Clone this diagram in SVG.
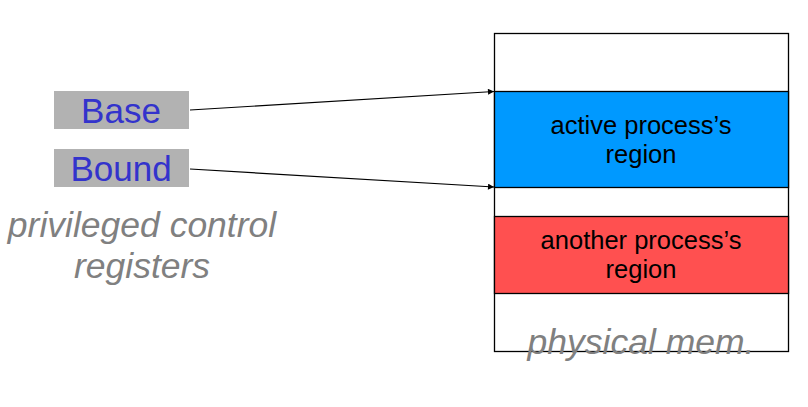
<svg xmlns="http://www.w3.org/2000/svg" width="808" height="407" viewBox="0 0 808 407">
<style>
.reg{fill:#b2b2b2}
.regt{font-family:"Liberation Sans",Arial,sans-serif;font-size:35px;fill:#3333cc;text-anchor:middle}
.note{font-family:"Liberation Sans",Arial,sans-serif;font-size:35.5px;font-style:italic;fill:#808080;text-anchor:middle}
.memt{font-family:"Liberation Sans",Arial,sans-serif;font-size:25.5px;fill:#000;text-anchor:middle}
.box{stroke:#000;stroke-width:1.3}
.conn{stroke:#000;stroke-width:1.2;fill:none;marker-end:url(#ah)}
</style>
<defs>
<marker id="ah" viewBox="0 0 10 10" refX="10" refY="5" markerWidth="8" markerHeight="6" markerUnits="userSpaceOnUse" orient="auto">
<path d="M0,0 L10,5 L0,10 z" fill="#000"/>
</marker>
</defs>
<rect width="808" height="407" fill="#fff"/>
<g id="memory">
<rect class="box" x="494.5" y="33.5" width="294" height="318" fill="#fff"/>
<rect class="box" x="494.5" y="91.5" width="294" height="96" fill="#0099ff"/>
<rect class="box" x="494.5" y="216.5" width="294" height="77" fill="#ff5050"/>
</g>
<g id="active">
<text class="memt" x="641" y="134">active process’s</text>
<text class="memt" x="641" y="163">region</text>
</g>
<g id="another">
<text class="memt" x="641" y="249">another process’s</text>
<text class="memt" x="641" y="278">region</text>
</g>
<g id="physlabel">
<text class="note" x="641" y="354">physical mem.</text>
</g>
<g id="base">
<rect class="reg" x="54" y="91" width="135" height="38"/>
<text class="regt" x="121" y="123">Base</text>
</g>
<g id="bound">
<rect class="reg" x="54" y="149" width="135" height="38"/>
<text class="regt" x="121" y="181">Bound</text>
</g>
<g id="privlabel">
<text class="note" x="142" y="237">privileged control</text>
<text class="note" x="142" y="278">registers</text>
</g>
<g id="connectors">
<line class="conn" x1="190" y1="110" x2="494" y2="91.5"/>
<line class="conn" x1="190" y1="169" x2="494" y2="187"/>
</g>
</svg>
